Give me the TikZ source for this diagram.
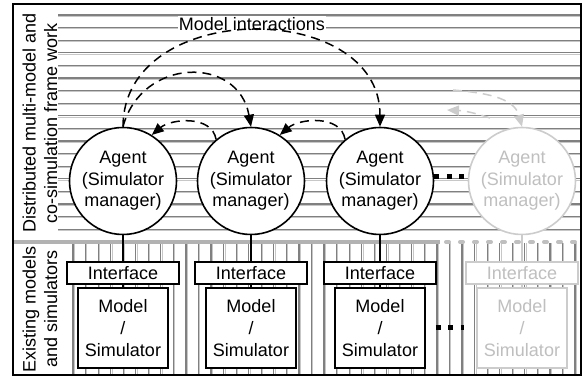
\documentclass[tikz,border=0pt]{standalone}
\usepackage{fontspec}
\setmainfont{Liberation Sans}
\usetikzlibrary{arrows.meta}
\tikzset{
  agent/.style={circle, draw, line width=0.8pt, fill=white, minimum size=53.5pt, inner sep=0pt, align=center},
  iface/.style={rectangle, draw, line width=0.8pt, fill=white, minimum width=56pt, minimum height=11pt, inner sep=0pt},
  model/.style={rectangle, draw, line width=0.8pt, fill=white, minimum width=45pt, minimum height=40pt, inner sep=0pt, align=center},
  faded/.style={draw=black!20, text=black!25},
  link/.style={line width=0.8pt},
  inter/.style={line width=0.75pt, dash pattern=on 4.5pt off 3pt, -{Triangle[length=6pt,width=5pt]}},
  bgdark/.style={draw=black!50, line width=0.6pt},
  bglight/.style={draw=black!22, line width=0.5pt},
  dots/.style={line width=2.5pt, dash pattern=on 2.5pt off 3.75pt},
}
\begin{document}
\begin{tikzpicture}[x=0.5pt, y=-0.5pt, font=\fontsize{9}{10.8}\selectfont]
			\useasboundingbox (0,0) rectangle (585,379);
			
			%Background: horizontal lines (framework), vertical lines (simulators)
			\foreach \k in {0,...,17}{
				\draw[bgdark] (58,{15+12.6*\k}) -- (581,{15+12.6*\k});
				\draw[bglight] (58,{16.4+12.6*\k}) -- (581,{16.4+12.6*\k});
			}
			\foreach \k in {0,...,40}{
				\draw[bgdark] ({73+12.55*\k},243) -- ({73+12.55*\k},375);
				\draw[bglight] ({74.4+12.55*\k},243) -- ({74.4+12.55*\k},375);
			}
			\draw[draw=black!30, line width=2pt] (13,242) -- (440,242);
			\draw[draw=black!25, line width=2pt, line cap=round, dash pattern=on 1.5pt off 5.5pt] (446,242) -- (581,242);
			\draw[line width=0.6pt] (13,4) rectangle (581,375);
			
			%Row labels
			\node[rotate=90, align=center] (fw) at (40,123) {Distributed multi-model and\\co-simulation frame work};
			\node[rotate=90, align=center] (ex) at (40,309) {Existing models\\and simulators};
			
			%Agents
			\node[agent] (a1) at (123,181) {Agent\\(Simulator\\manager)};
			\node[agent] (a2) at (251,181) {Agent\\(Simulator\\manager)};
			\node[agent] (a3) at (380,181) {Agent\\(Simulator\\manager)};
			\node[agent, faded] (a4) at (522,181) {Agent\\(Simulator\\manager)};
			
			%Interfaces and models
			\node[iface] (i1) at (123,273) {Interface};
			\node[iface] (i2) at (251,273) {Interface};
			\node[iface] (i3) at (380,273) {Interface};
			\node[iface, faded] (i4) at (522,273) {Interface};
			\node[model] (m1) at (123,328) {Model\\/\\Simulator};
			\node[model] (m2) at (251,328) {Model\\/\\Simulator};
			\node[model] (m3) at (380,328) {Model\\/\\Simulator};
			\node[model, faded] (m4) at (522,328) {Model\\/\\Simulator};
			
			\foreach \n in {1,2,3}{
				\draw[link] (a\n) -- (i\n);
				\draw[link] (i\n) -- (m\n);
			}
			\draw[link, faded] (a4) -- (i4);
			\draw[link, faded] (i4) -- (m4);
			
			%Model interactions
			\node[fill=white, inner sep=0.5pt] (mi) at (252,24) {Model interactions};
			\draw[inter] (a1.north) to[out=90, in=90, looseness=1.28] (a3.north);
			\draw[inter] (a1.north) to[out=75, in=100, looseness=1.45] (a2.north);
			\draw[inter] (a2.130) to[out=100, in=40] (a1.58);
			\draw[inter] (a3.130) to[out=100, in=40] (a2.58);
			
			\coordinate (f1) at (453,90);
			\coordinate (f2) at (490,118);
			\coordinate (f3) at (447,110);
			\draw[inter, faded] (f1) to[out=-5, in=105] (a4.north);
			\draw[inter, faded] (f2) to[bend right=8] (f3);
			
			%Continuation dots
			\draw[dots] ([yshift=2pt]a3.east) -- ([yshift=2pt]a4.west);
			\draw[dots] ([xshift=5pt]m3.east) -- ([xshift=-6pt]m4.west);
\end{tikzpicture}
\end{document}
